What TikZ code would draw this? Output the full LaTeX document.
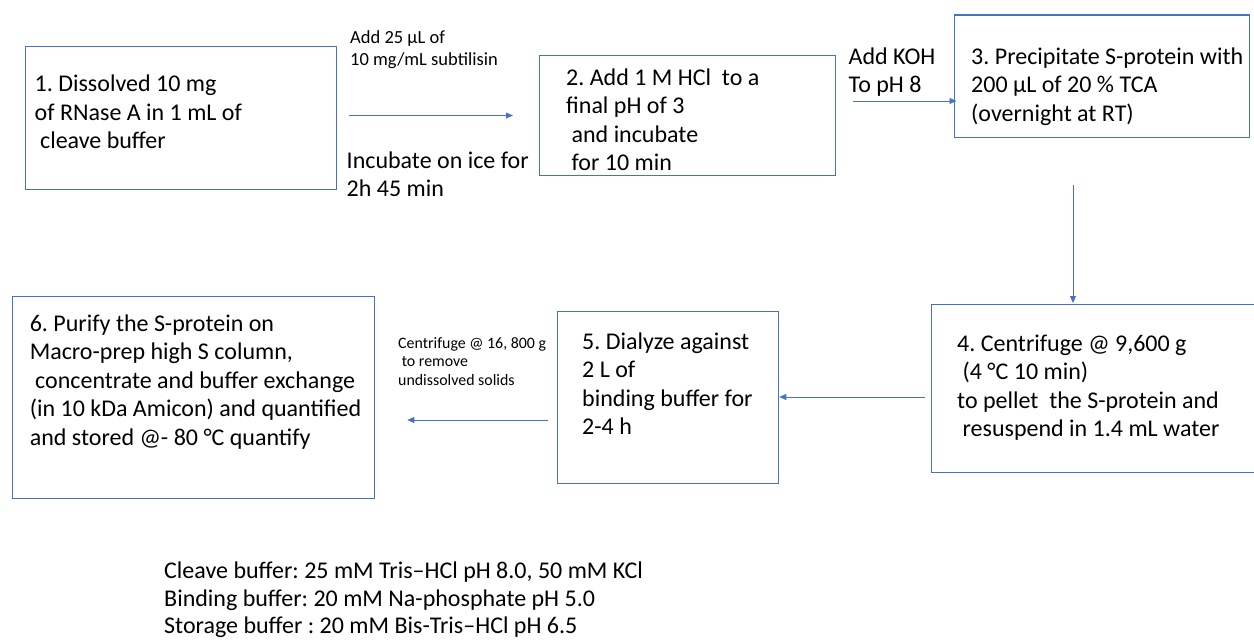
\documentclass[tikz,border=0pt]{standalone}
\usepackage{fontspec}
\setmainfont{Carlito}
\usetikzlibrary{arrows.meta}
\definecolor{obl}{HTML}{4472C4}
\newcommand\fstr{\rule{0pt}{20pt}}
\frenchspacing
\begin{document}
\begin{tikzpicture}[x=1pt,y=-1pt,
  box/.style={draw=obl, line width=1.3pt, rectangle, inner sep=0pt, anchor=north west},
  txt/.style={anchor=north west, inner sep=0pt, align=left, font=\fontsize{24}{28.5}\selectfont},
  lbl/.style={anchor=north west, inner sep=0pt, align=left, font=\fontsize{18.5}{22}\selectfont},
  slbl/.style={anchor=north west, inner sep=0pt, align=left, font=\fontsize{15.9}{18.7}\selectfont},
  arr/.style={draw=obl, line width=0.8pt, -{Triangle[length=7pt,width=6pt]}}]
\useasboundingbox (0,0) rectangle (1254,640);
% boxes
\node[box, minimum width=311pt, minimum height=143.3pt] (b1) at (24.8,45.7) {};
\node[box, minimum width=296pt, minimum height=120pt] (b2) at (539,55) {};
\node[box, minimum width=295pt, minimum height=122.4pt] (b3) at (954,14.3) {};
\node[box, minimum width=340pt, minimum height=167.5pt] (b4) at (931,304) {};
\node[box, minimum width=221pt, minimum height=172.3pt] (b5) at (557,310.7) {};
\node[box, minimum width=362.2pt, minimum height=202pt] (b6) at (11.8,295.7) {};
% box texts
\node[txt] (t1) at (34.5,71.5) {\fstr 1. Dissolved 10 mg\\of RNase A in 1 mL of\\\ cleave buffer};
\node[txt] (t2) at (566,65) {\fstr 2. Add 1 M HCl\ \ to a\\final pH of 3\\\ and incubate\\\ for 10 min};
\node[txt] (t3) at (971,44) {\fstr 3. Precipitate S-protein with\\200 µL of 20 \% TCA\\(overnight at RT)};
\node[txt] (t4) at (957,331) {\fstr 4. Centrifuge @ 9,600 g\\\ (4 °C 10 min)\\to pellet\ \ the S-protein and\\\ resuspend in 1.4 mL water};
\node[txt] (t5) at (582,329) {\fstr 5. Dialyze against\\2 L of\\binding buffer for\\2-4 h};
\node[txt] (t6) at (29.6,311) {\fstr 6. Purify the S-protein on\\Macro-prep high S column,\\\ concentrate and buffer exchange\\(in 10 kDa Amicon) and quantified\\and stored @- 80 °C quantify};
% labels
\node[lbl] (l1) at (350,23.3) {\fstr Add 25 µL of\\10 mg/mL subtilisin};
\node[txt] (l2) at (346.5,148) {\fstr Incubate on ice for\\2h 45 min};
\node[txt] (l3) at (848.5,44) {\fstr Add KOH\\To pH 8};
\node[slbl] (l4) at (398,328) {\fstr Centrifuge @ 16, 800 g\\\ to remove\\undissolved solids};
\node[txt, font=\fontsize{24}{27.5}\selectfont] (notes) at (164,558.5) {\fstr Cleave buffer: 25 mM Tris–HCl pH 8.0, 50 mM KCl\\Binding buffer: 20 mM Na-phosphate pH 5.0\\Storage buffer : 20 mM Bis-Tris–HCl pH 6.5};
% arrows
\draw[arr, shorten <=12pt, shorten >=26pt] (b1.east |- 0,115.5) -- (b2.west |- 0,115.5);
\draw[arr, shorten <=17pt, shorten >=-2.5pt] (b2.east |- 0,101) -- (b3.west |- 0,101);
\draw[arr, shorten <=47pt, shorten >=1pt] (b3.south -| 1073,0) -- (b4.north -| 1073,0);
\draw[arr, shorten <=6pt] (b4.west |- 0,397) -- (b5.east |- 0,397);
\draw[arr, shorten <=9pt, shorten >=32pt] (b5.west |- 0,420) -- (b6.east |- 0,420);
\end{tikzpicture}
\end{document}
